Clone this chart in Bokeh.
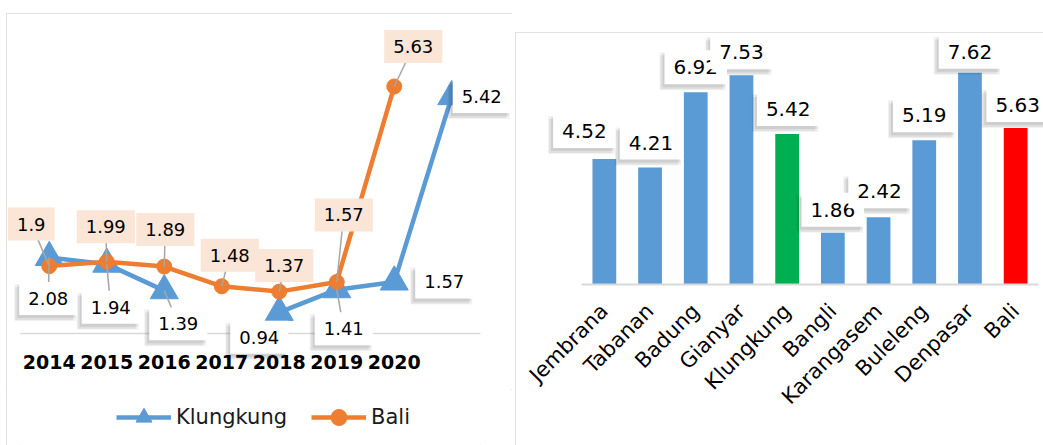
import math
from bokeh.plotting import figure
from bokeh.models import (ColumnDataSource, Legend, LegendItem,
                          FixedTicker, Range1d, FactorRange, Spacer)
from bokeh.core.properties import value
from bokeh.layouts import row, column
from bokeh.embed import file_html
from bokeh.resources import INLINE

FONT = "DejaVu Sans"
BLUE = "#5b9bd5"
ORANGE = "#ed7d31"
PEACH = "#fbe5d6"
LEADER = "#a6a6a6"
AXIS = "#d9d9d9"

# ---------------- data: left chart ----------------
years = ["2014", "2015", "2016", "2017", "2018", "2019", "2020"]
klungkung = [2.08, 1.94, 1.39, float("nan"), 0.94, 1.41, 1.57, 5.42]
bali = [1.90, 1.99, 1.89, 1.48, 1.37, 1.57, 5.63]
series_names = ["Klungkung", "Bali"]

# ---------------- data: right chart ----------------
regions = ["Jembrana", "Tabanan", "Badung", "Gianyar", "Klungkung",
           "Bangli", "Karangasem", "Buleleng", "Denpasar", "Bali"]
rate_2020 = [4.52, 4.21, 6.92, 7.53, 5.42, 1.86, 2.42, 5.19, 7.62, 5.63]

# ---------------- label placement (screen px offsets) ----------------
k_off_x = [-1, 4, 14, 0, -20, 7, 50, 30]
k_off_y = [-41, -43, -33, 0, -25, -39, 0, 0]
k_leader = [True, True, True, False, False, True, False, False]
b_off_x = [-18, -1, 1, 8, 5, 7, 19]
b_off_y = [42, 35, 37, 31, 26, 67, 40]
b_leader = [True, True, True, True, True, True, True]
bar_off_x = [-20, 1, 0, 0, 1, 0, 1, 0, 0, 2]
bar_off_y = [28, 25, 25, 23, 25, 23, 26, 25, 21, 23]
highlight = {"Klungkung": "#00b050", "Bali": "#ff0000"}

PAD = (9, 9, 10, 10)
SHADOW = [(-3, -4, 2, 0.05), (-4, -5, 0, 0.07), (-2, -3, 0, 0.08)]


def fmt(v):
    s = "%.2f" % v
    if s.endswith("0"):
        s = s[:-1]
    return s


def add_labels(fig, xs, ys, dx, dy, fill, shadow, size):
    texts = [fmt(v) for v in ys]
    if shadow:
        for ox, oy, extra, alpha in SHADOW:
            src = ColumnDataSource(dict(x=xs, y=ys, t=texts,
                                        dx=[d + ox for d in dx],
                                        dy=[-(d + oy) for d in dy]))
            fig.text(x="x", y="y", text="t", source=src, x_offset="dx", y_offset="dy",
                     anchor="center", text_align="center", text_baseline="middle",
                     text_font=value(FONT), text_font_size=size,
                     text_color="black", text_alpha=alpha,
                     background_fill_color="black", background_fill_alpha=alpha,
                     padding=tuple(p + extra for p in PAD), level="overlay")
    src = ColumnDataSource(dict(x=xs, y=ys, t=texts, dx=dx, dy=[-d for d in dy]))
    fig.text(x="x", y="y", text="t", source=src, x_offset="dx", y_offset="dy",
             anchor="center", text_align="center", text_baseline="middle",
             text_font=value(FONT), text_font_size=size, text_color="black",
             background_fill_color=fill, padding=PAD, level="overlay")


# ================= LEFT: line chart =================
X0, X1 = -0.5, 7.5
Y0, Y1 = 0.5, 7.0
LW, LH = 506, 376
MB_L, MB_R, MB_T, MB_B = 14, 32, 7, 56
FW = LW - MB_L - MB_R
FH = LH - MB_T - MB_B
SX = FW / (X1 - X0)
SY = FH / (Y1 - Y0)

left = figure(width=LW, height=LH, x_range=Range1d(X0, X1), y_range=Range1d(Y0, Y1),
              output_backend="svg", toolbar_location=None,
              min_border_left=MB_L, min_border_right=MB_R,
              min_border_top=MB_T, min_border_bottom=MB_B)
left.yaxis.visible = False
left.grid.visible = False
left.outline_line_color = None
xa = left.xaxis[0]
xa.ticker = FixedTicker(ticks=list(range(len(years))))
xa.major_label_overrides = {i: y for i, y in enumerate(years)}
xa.axis_line_color = AXIS
xa.axis_line_width = 1.5
xa.major_tick_line_color = None
xa.minor_tick_line_color = None
xa.major_tick_out = 0
xa.minor_tick_out = 0
xa.major_label_standoff = 21
xa.major_label_text_font = FONT
xa.major_label_text_font_style = "bold"
xa.major_label_text_font_size = "19px"
xa.major_label_text_color = "black"

kx = list(range(len(klungkung)))
bx = list(range(len(bali)))
src_k = ColumnDataSource(dict(x=kx, y=klungkung))
src_b = ColumnDataSource(dict(x=bx, y=bali))

LINE_W = 4.5
left.line("x", "y", source=src_k, line_color=BLUE, line_width=LINE_W)
left.scatter("x", "y", source=src_k, marker="triangle", size=28,
             fill_color=BLUE, line_color=BLUE)
left.line("x", "y", source=src_b, line_color=ORANGE, line_width=LINE_W)
left.scatter("x", "y", source=src_b, marker="circle", size=15,
             fill_color=ORANGE, line_color=ORANGE)

# leader lines
lx0, ly0, lx1, ly1 = [], [], [], []
for i, v in enumerate(klungkung):
    if k_leader[i] and v == v:
        lx0.append(kx[i]); ly0.append(v)
        lx1.append(kx[i] + k_off_x[i] / SX); ly1.append(v + k_off_y[i] / SY)
for i, v in enumerate(bali):
    if b_leader[i]:
        lx0.append(bx[i]); ly0.append(v)
        lx1.append(bx[i] + b_off_x[i] / SX); ly1.append(v + b_off_y[i] / SY)
left.segment(lx0, ly0, lx1, ly1, line_color=LEADER, line_width=1.5)

kv = [(i, v) for i, v in enumerate(klungkung) if v == v]
add_labels(left, [kx[i] for i, _ in kv], [v for _, v in kv],
           [k_off_x[i] for i, _ in kv], [k_off_y[i] for i, _ in kv], "white", True, "18px")
add_labels(left, bx, bali, b_off_x, b_off_y, PEACH, False, "18px")

# ---- legend strip under the line chart ----
leg = figure(width=LW, height=445 - 13 - LH, x_range=Range1d(0, 1), y_range=Range1d(0, 1),
             output_backend="svg", toolbar_location=None,
             min_border_left=0, min_border_right=0, min_border_top=0, min_border_bottom=0)
leg.axis.visible = False
leg.grid.visible = False
leg.outline_line_color = None
nothing = dict(x=[float("nan")], y=[float("nan")])   # legend swatches only
lk1 = leg.line("x", "y", source=ColumnDataSource(nothing), line_color=BLUE, line_width=LINE_W)
lk2 = leg.scatter("x", "y", source=ColumnDataSource(nothing), marker="triangle",
                  size=28, fill_color=BLUE, line_color=BLUE)
lb1 = leg.line("x", "y", source=ColumnDataSource(nothing), line_color=ORANGE, line_width=LINE_W)
lb2 = leg.scatter("x", "y", source=ColumnDataSource(nothing), marker="circle",
                  size=15, fill_color=ORANGE, line_color=ORANGE)
legend = Legend(items=[LegendItem(label=series_names[0], renderers=[lk1, lk2]),
                       LegendItem(label=series_names[1], renderers=[lb1, lb2])],
                orientation="horizontal", location=(96, 8),
                glyph_width=55, glyph_height=40, label_standoff=5, spacing=24,
                padding=0, margin=0, border_line_color=None,
                background_fill_alpha=0,
                label_text_font=FONT, label_text_font_size="21px",
                label_text_color="#1a1a1a")
leg.add_layout(legend)

left_panel = column(left, leg)
left_panel.styles = {"outline": "1px solid #d9d9d9", "outline-offset": "-1px"}

# ================= RIGHT: bar chart =================
RW, RH = 528, 413
right = figure(width=RW, height=RH, x_range=FactorRange(*regions), y_range=Range1d(0, 9),
               output_backend="svg", toolbar_location=None,
               min_border_left=66, min_border_right=5,
               min_border_top=2, min_border_bottom=161)
right.yaxis.visible = False
right.grid.visible = False
right.outline_line_color = None
colors = [highlight.get(r, BLUE) for r in regions]
src_bar = ColumnDataSource(dict(region=regions, rate=rate_2020, color=colors))
right.vbar(x="region", top="rate", width=0.52, fill_color="color", line_color=None,
           source=src_bar)
ra = right.xaxis[0]
ra.axis_line_color = AXIS
ra.axis_line_width = 2
ra.major_tick_line_color = None
ra.minor_tick_line_color = None
ra.major_tick_out = 0
ra.major_label_orientation = math.pi / 4
ra.major_label_standoff = 23
ra.major_label_text_font = FONT
ra.major_label_text_font_size = "21px"
ra.major_label_text_color = "black"
add_labels(right, regions, rate_2020, bar_off_x, bar_off_y, "white", True, "20px")
right.styles = {"outline": "1px solid #d9d9d9", "outline-offset": "-1px"}

layout = row(Spacer(width=6, height=445),
             column(Spacer(width=LW, height=13), left_panel),
             Spacer(width=3, height=445),
             column(Spacer(width=RW, height=32), right))

open("out.html", "w").write(file_html(layout, INLINE))
